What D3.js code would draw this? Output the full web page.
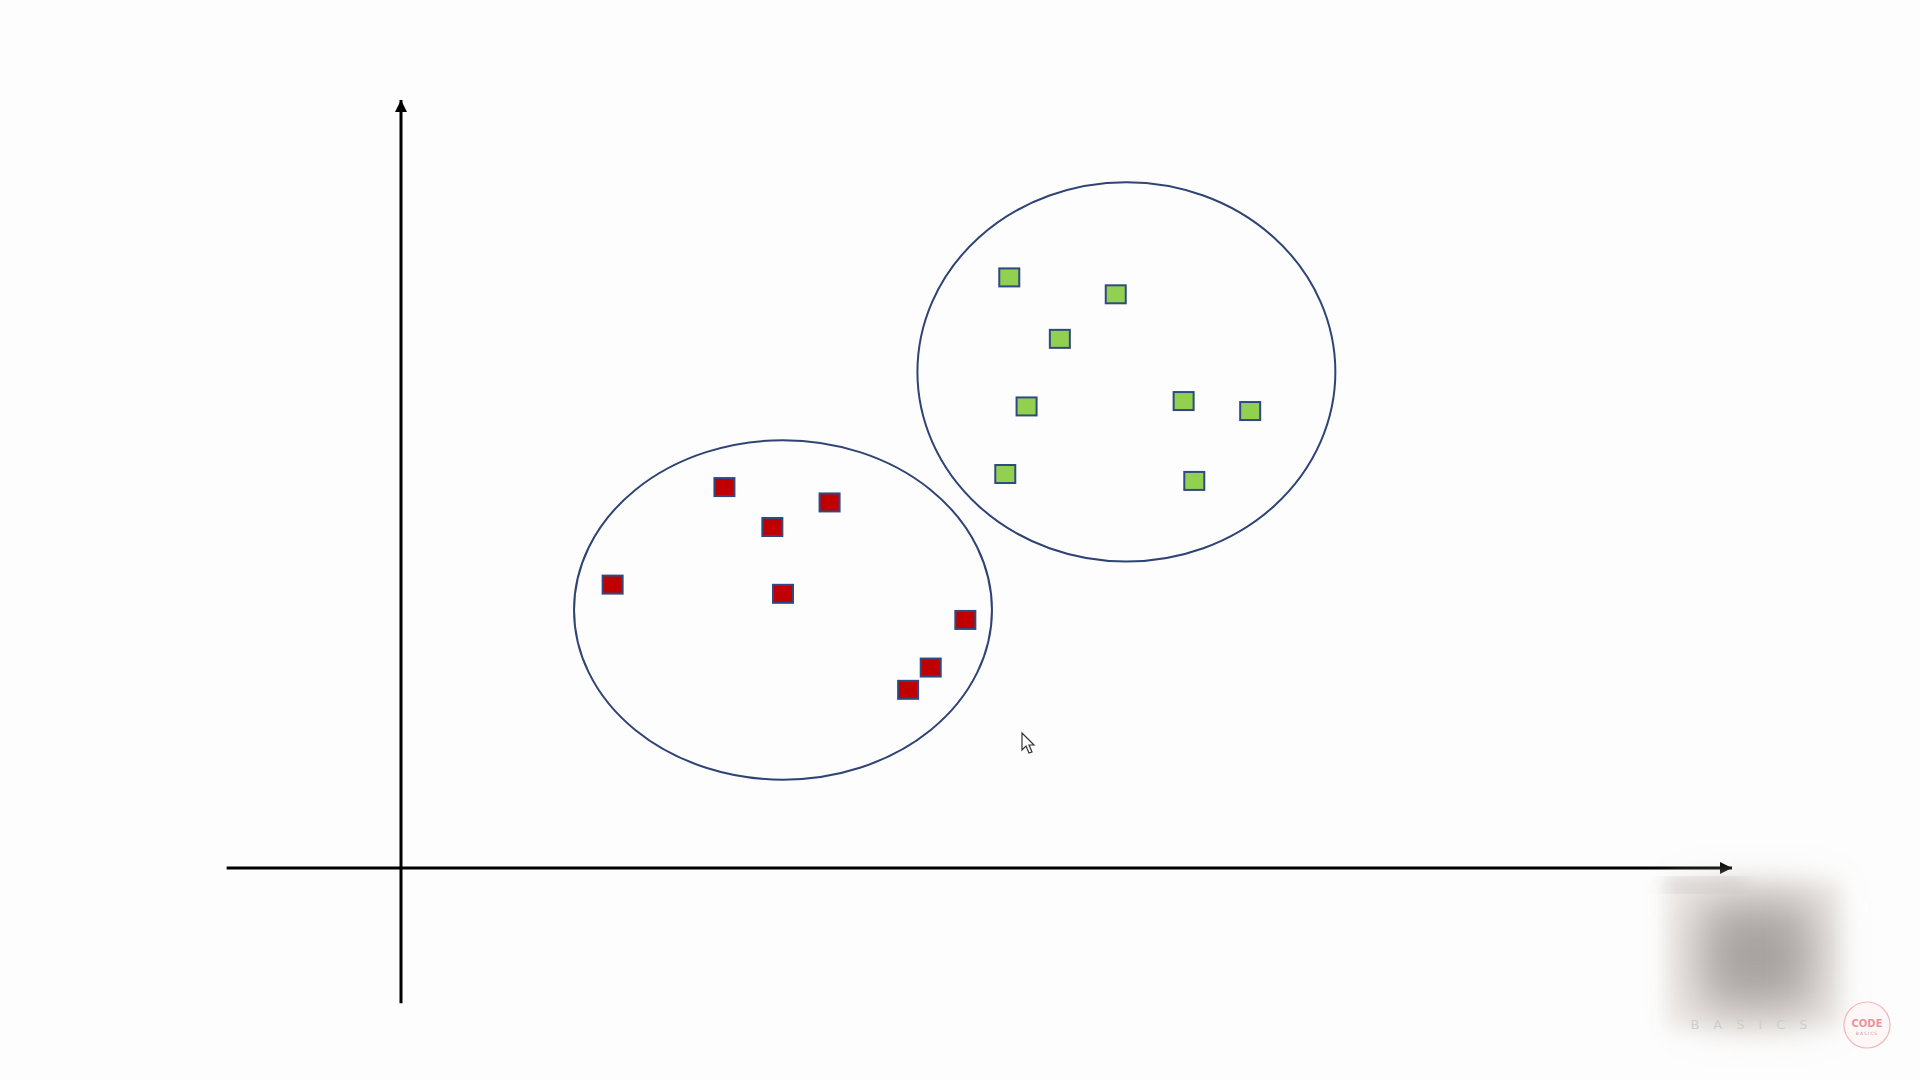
<!DOCTYPE html>
<html>
<head>
<meta charset="utf-8">
<script src="https://cdn.jsdelivr.net/npm/d3@7"></script>
<style>
  html, body { margin: 0; padding: 0; background: #fdfdfd; }
  svg { display: block; }
</style>
</head>
<body>
<svg id="chart" width="1920" height="1080"></svg>
<script>
// ---- data (arbitrary units, axis origin = 0,0) ----
const clusterNames = ["red", "green"];
const redX = [24.3, 32.2, 27.9, 15.9, 28.7, 42.4, 39.8, 38.1];
const redY = [49.6, 47.6, 44.4, 36.9, 35.7, 32.3, 26.1, 23.2];
const greenX = [45.7, 53.7, 49.5, 47.0, 58.8, 63.8, 45.4, 59.6];
const greenY = [76.9, 74.7, 68.9, 60.1, 60.8, 59.5, 51.3, 50.4];
// cluster ellipses: center x, center y, radius x, radius y (data units)
const clusterCx = [28.7, 54.5];
const clusterCy = [33.6, 64.6];
const clusterRx = [15.7, 15.7];
const clusterRy = [22.1, 24.7];
const xAxisExtent = [-13.1, 100];
const yAxisExtent = [-17.6, 100];

const svg = d3.select("#chart");
const W = 1920, H = 1080;
svg.append("rect").attr("width", W).attr("height", H).attr("fill", "#fdfdfd");

const x = d3.scaleLinear().domain([0, 100]).range([401, 1732]);
const y = d3.scaleLinear().domain([0, 100]).range([868, 100]);

const defs = svg.append("defs");
defs.append("marker")
  .attr("id", "arrow")
  .attr("viewBox", "0 0 12 12")
  .attr("refX", 12).attr("refY", 6)
  .attr("markerWidth", 12).attr("markerHeight", 12)
  .attr("markerUnits", "userSpaceOnUse")
  .attr("orient", "auto")
  .append("path").attr("d", "M0,0 L12,6 L0,12 Z").attr("fill", "#000");

const blur = defs.append("filter").attr("id", "blur")
  .attr("x", "-40%").attr("y", "-40%").attr("width", "180%").attr("height", "180%");
blur.append("feGaussianBlur").attr("stdDeviation", 10);
const blur2 = defs.append("filter").attr("id", "blur2")
  .attr("x", "-60%").attr("y", "-60%").attr("width", "220%").attr("height", "220%");
blur2.append("feGaussianBlur").attr("stdDeviation", 24);

// ---- axes ----
svg.append("line")
  .attr("x1", x(xAxisExtent[0])).attr("x2", x(xAxisExtent[1]))
  .attr("y1", y(0)).attr("y2", y(0))
  .attr("stroke", "#000").attr("stroke-width", 3)
  .attr("marker-end", "url(#arrow)");
svg.append("line")
  .attr("x1", x(0)).attr("x2", x(0))
  .attr("y1", y(yAxisExtent[0])).attr("y2", y(yAxisExtent[1]))
  .attr("stroke", "#000").attr("stroke-width", 3)
  .attr("marker-end", "url(#arrow)");

// ---- cluster ellipses ----
const ellipses = clusterNames.map((n, i) => ({
  name: n, cx: clusterCx[i], cy: clusterCy[i], rx: clusterRx[i], ry: clusterRy[i]
}));
svg.selectAll("ellipse.cluster").data(ellipses).join("ellipse")
  .attr("class", "cluster")
  .attr("cx", d => x(d.cx))
  .attr("cy", d => y(d.cy))
  .attr("rx", d => x(d.cx + d.rx) - x(d.cx))
  .attr("ry", d => y(d.cy) - y(d.cy + d.ry))
  .attr("fill", "none")
  .attr("stroke", "#2F4475")
  .attr("stroke-width", 2);

// ---- points ----
const pts = [
  ...redX.map((v, i) => ({ x: v, y: redY[i], c: "red" })),
  ...greenX.map((v, i) => ({ x: v, y: greenY[i], c: "green" }))
];
const fillOf = { red: "#C00000", green: "#92D050" };
const sw = 20, sh = 18;
svg.selectAll("rect.pt").data(pts).join("rect")
  .attr("class", "pt")
  .attr("x", d => x(d.x) - sw / 2)
  .attr("y", d => y(d.y) - sh / 2)
  .attr("width", sw).attr("height", sh)
  .attr("fill", d => fillOf[d.c])
  .attr("stroke", "#2F4A82")
  .attr("stroke-width", 2);

// ---- mouse cursor (screen artifact) ----
svg.append("path")
  .attr("transform", "translate(1022,733)")
  .attr("d", "M0,0 L0,17 L4,13 L7,20 L10,19 L7,12 L12,12 Z")
  .attr("fill", "#fff").attr("stroke", "#333").attr("stroke-width", 1.2);

// ---- blurred watermark box (bottom-right) ----
const wm = svg.append("g");
wm.append("rect").attr("x", 1666).attr("y", 882).attr("width", 174).attr("height", 146)
  .attr("fill", "#eeeae6").attr("filter", "url(#blur)");
wm.append("rect").attr("x", 1700).attr("y", 900).attr("width", 115).attr("height", 110)
  .attr("fill", "#a9a3a0").attr("filter", "url(#blur2)");
wm.append("rect").attr("x", 1665).attr("y", 880).attr("width", 80).attr("height", 10)
  .attr("fill", "#c9c4c2").attr("filter", "url(#blur)");
wm.append("text").attr("x", 1756).attr("y", 1029).attr("text-anchor", "middle")
  .attr("font-family", "DejaVu Sans").attr("font-size", 13).attr("letter-spacing", 14)
  .attr("fill", "#cfcfc8").text("BASICS");

const logo = svg.append("g").attr("transform", "translate(1867,1025)");
logo.append("circle").attr("r", 23).attr("fill", "#fff7f7")
  .attr("stroke", "#f0b8bb").attr("stroke-width", 1.2);
logo.append("text").attr("y", 2).attr("text-anchor", "middle")
  .attr("font-family", "DejaVu Sans").attr("font-weight", "bold").attr("font-size", 10)
  .attr("fill", "#e9959b").text("CODE");
logo.append("text").attr("y", 10).attr("text-anchor", "middle")
  .attr("font-family", "DejaVu Sans").attr("font-size", 4.5).attr("letter-spacing", 1)
  .attr("fill", "#c99aa0").text("BASICS");
</script>
</body>
</html>
